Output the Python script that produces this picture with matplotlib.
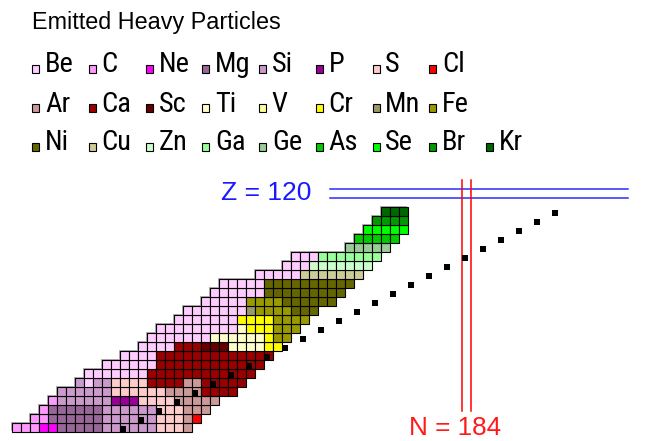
import re
import matplotlib
matplotlib.use('Agg')
from matplotlib import pyplot as plt
from matplotlib.patches import Rectangle
from matplotlib import font_manager

plt.rcParams['font.family'] = ['Liberation Sans', 'DejaVu Sans']

# emitted heavy particles (legend order) and their colours
particles = ['Be', 'C', 'Ne', 'Mg', 'Si', 'P', 'S', 'Cl',
             'Ar', 'Ca', 'Sc', 'Ti', 'V', 'Cr', 'Mn', 'Fe',
             'Ni', 'Cu', 'Zn', 'Ga', 'Ge', 'As', 'Se', 'Br', 'Kr']
particle_colors = ['#ffccff', '#ff99ff', '#ff00ff', '#996699', '#cc99cc', '#990099', '#ffcccc', '#ff0000',
                   '#cc9999', '#990000', '#660000', '#ffffcc', '#ffff99', '#ffff00', '#999966', '#999900',
                   '#666600', '#cccc99', '#ccffcc', '#99ff99', '#99cc99', '#00cc00', '#00ff00', '#009900', '#006600']
legend_rows = [8, 8, 9]

# parent nuclei: one row per Z, first N of the row, then particle runs along N
z_first = 94
n_first = [134, 136, 137, 138, 139, 141, 142, 144, 146, 148, 149, 150, 152,
           153, 155, 156, 157, 161, 164, 165, 171, 172, 173, 174, 175]
row_runs = [
    'C3 Ne2 Mg5 Si6 S3 Ar1',
    'C2 Mg6 Si6 S3 Ar1 Cl1',
    'C1 Mg6 Si6 S3 Ar3',
    'C1 Si6 P3 S4 Ar5',
    'Si6 S6 Ar4 Ca4',
    'Si1 Be1 Si2 S4 Ca4 Ar2 Ca5',
    'Be7 Ca12',
    'Be6 Ca12',
    'Be4 Ca13',
    'Be4 Ca3 Sc3 Ti4 Cr2',
    'Be7 Ti6 Cr1 Fe2',
    'Be9 Ti1 Cr3 Fe3',
    'Be7 Cr4 Fe4',
    'Be7 Mn1 Fe4 Ni3',
    'Be5 Fe4 Ni6',
    'Be6 Ni9',
    'Be5 Ni10',
    'Be5 Cu7',
    'Be3 Zn7',
    'Be3 Ga7',
    'Ge5',
    'As5',
    'Se5',
    'Br4',
    'Kr3',
]

# black markers
mark_n = [146, 148, 150, 152, 154, 156, 158, 160, 162, 164, 166, 168, 170,
          172, 174, 176, 178, 180, 182, 184, 186, 188, 190, 192, 194]
mark_z = [94, 95, 96, 97, 98, 99, 100, 101, 102, 103, 104, 105, 106,
          107, 108, 109, 110, 111, 112, 113, 114, 115, 116, 117, 118]

magic_z = 120
magic_n = 184

# legend labels look condensed in the original: use a narrow face if one exists
label_prop = font_manager.FontProperties(family='Liberation Sans', size=16.8)
names = {f.name: f for f in font_manager.fontManager.ttflist}
for fam in ('Liberation Sans Narrow', 'Roboto Condensed', 'Open Sans Condensed',
            'Noto Sans Condensed', 'DejaVu Sans Condensed'):
    if fam in names:
        label_prop = font_manager.FontProperties(family=fam, size=20.5)
        break
else:
    narrow = [f for f in font_manager.fontManager.ttflist
              if f.stretch in ('condensed', 'semi-condensed', 'extra-condensed')
              and f.style == 'normal' and f.weight in (400, 'normal', 'regular')]
    if narrow:
        label_prop = font_manager.FontProperties(fname=narrow[0].fname, size=20.5)

W, H = 665, 441
fig = plt.figure(figsize=(W / 100, H / 100), dpi=100)
ax = fig.add_axes([0, 0, 1, 1])
ax.set_xlim(132.2, 206.09)
ax.set_ylim(92.5, 141.5)
ax.axis('off')

color_of = dict(zip(particles, particle_colors))
for k, runs in enumerate(row_runs):
    z = z_first + k
    n = n_first[k]
    for name, count in re.findall(r'([A-Za-z]+)(\d+)', runs):
        for _ in range(int(count)):
            # faint shadow up-left, then the cell
            ax.add_patch(Rectangle((n - 0.62, z - 0.38), 1, 1, fc='#b0b0b0', ec='none', zorder=1))
            ax.add_patch(Rectangle((n - 0.5, z - 0.5), 1, 1, fc=color_of[name],
                                   ec='black', lw=0.8, zorder=2))
            n += 1

ax.plot([n - 0.13 for n in mark_n], [z - 0.13 for z in mark_z], 's', color='black',
        ms=4.7, mew=0, zorder=4)

# Z = 120 and N = 184 markers
for zz in (magic_z - 0.5, magic_z + 0.5):
    ax.plot([168.9, 202.0], [zz, zz], color='#2a2aff', lw=1.1, zorder=3)
for nn in (magic_n - 0.5, magic_n + 0.5):
    ax.plot([nn, nn], [95.8, 121.5], color='#ff0000', lw=1.1, zorder=3)
ax.text(166.85, 119.3, f'Z = {magic_z}', color='#1a1aff', fontsize=19,
        ha='right', va='baseline')
ax.text(177.7, 93.2, f'N = {magic_n}', color='#ff1a1a', fontsize=18.8,
        ha='left', va='baseline')

# title and legend
fig.text(31.7 / W, 1 - 29.3 / H, 'Emitted Heavy Particles', fontsize=16.8, va='baseline')
idx = 0
for r, count in enumerate(legend_rows):
    base = 72.5 + 39 * r
    for c in range(count):
        x0 = 32.3 + 56.7 * c
        fig.add_artist(Rectangle((x0 / W, 1 - base / H), 7 / W, 8 / H,
                                 transform=fig.transFigure, fc=particle_colors[idx],
                                 ec='black', lw=0.8))
        fig.text((x0 + 12.7) / W, 1 - base / H, particles[idx], fontproperties=label_prop,
                 va='baseline')
        idx += 1

fig.savefig('out.png', dpi=100)
